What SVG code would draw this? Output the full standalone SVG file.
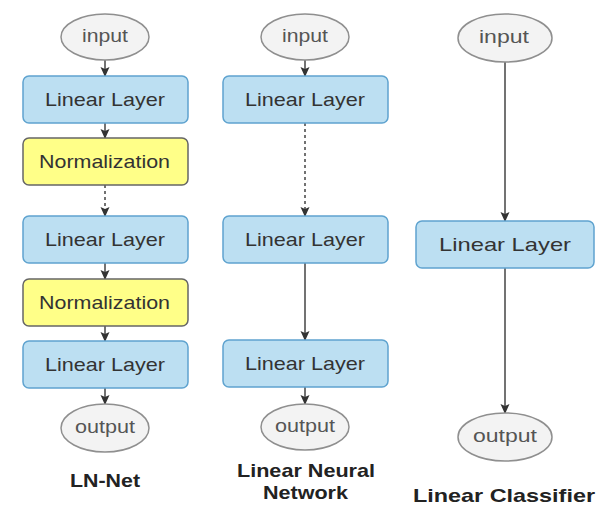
<svg xmlns="http://www.w3.org/2000/svg" width="597" height="505" viewBox="0 0 597 505">
<style>
.lin{fill:#bcdff2;stroke:#5fa3cf;stroke-width:1.5}
.norm{fill:#ffff88;stroke:#666;stroke-width:1.5}
.io{fill:#f3f3f3;stroke:#8f8f8f;stroke-width:1.5}
.t{font-family:"Liberation Sans",Arial,sans-serif;font-size:19px;fill:#333;text-anchor:middle;dominant-baseline:central}
.ti{font-family:"Liberation Sans",Arial,sans-serif;font-size:18px;fill:#555;text-anchor:middle;dominant-baseline:central}
.cap{font-family:"Liberation Sans",Arial,sans-serif;font-size:18.5px;font-weight:bold;fill:#222;text-anchor:middle;dominant-baseline:central}
.c{stroke:#444;stroke-width:1.5;fill:none;marker-end:url(#ah)}
.d{stroke-dasharray:3,3}
</style>
<defs>
<marker id="ah" viewBox="0 0 10 10" refX="9" refY="5" markerWidth="10" markerHeight="10" markerUnits="userSpaceOnUse" orient="auto">
<path d="M0,0.5 L10,5 L0,9.5 L2,5 z" fill="#333"/>
</marker>
</defs>
<rect width="597" height="505" fill="#fff"/>
<g id="connectors">
<line class="c" x1="105" y1="59" x2="105" y2="76"/>
<line class="c" x1="105" y1="123" x2="105" y2="138"/>
<line class="c d" x1="105" y1="185" x2="105" y2="216"/>
<line class="c" x1="105" y1="263" x2="105" y2="279"/>
<line class="c" x1="105" y1="326" x2="105" y2="341"/>
<line class="c" x1="105" y1="388" x2="105" y2="404"/>
<line class="c" x1="305" y1="59" x2="305" y2="76"/>
<line class="c d" x1="305" y1="123" x2="305" y2="216"/>
<line class="c" x1="305" y1="263" x2="305" y2="340"/>
<line class="c" x1="305" y1="387" x2="305" y2="404"/>
<line class="c" x1="505" y1="62" x2="505" y2="221"/>
<line class="c" x1="505" y1="268" x2="505" y2="413"/>
</g>
<g id="n1-input"><ellipse class="io" cx="105" cy="37" rx="44" ry="23"/><text class="ti" x="105" y="36" textLength="46" lengthAdjust="spacingAndGlyphs">input</text></g>
<g id="n1-lin1"><rect class="lin" x="23" y="76" width="165" height="47" rx="6"/><text class="t" x="105" y="99.5" textLength="120" lengthAdjust="spacingAndGlyphs">Linear Layer</text></g>
<g id="n1-norm1"><rect class="norm" x="23" y="138" width="165" height="47" rx="6"/><text class="t" x="104.5" y="161.5" textLength="131" lengthAdjust="spacingAndGlyphs">Normalization</text></g>
<g id="n1-lin2"><rect class="lin" x="23" y="216" width="165" height="47" rx="6"/><text class="t" x="105" y="239.5" textLength="120" lengthAdjust="spacingAndGlyphs">Linear Layer</text></g>
<g id="n1-norm2"><rect class="norm" x="23" y="279" width="165" height="47" rx="6"/><text class="t" x="104.5" y="302.5" textLength="131" lengthAdjust="spacingAndGlyphs">Normalization</text></g>
<g id="n1-lin3"><rect class="lin" x="23" y="341" width="165" height="47" rx="6"/><text class="t" x="105" y="364.5" textLength="120" lengthAdjust="spacingAndGlyphs">Linear Layer</text></g>
<g id="n1-output"><ellipse class="io" cx="105" cy="428" rx="44" ry="24"/><text class="ti" x="105" y="427" textLength="60" lengthAdjust="spacingAndGlyphs">output</text></g>
<text class="cap" x="105" y="480" textLength="70" lengthAdjust="spacingAndGlyphs">LN-Net</text>
<g id="n2-input"><ellipse class="io" cx="305" cy="37" rx="44" ry="23"/><text class="ti" x="305" y="36" textLength="46" lengthAdjust="spacingAndGlyphs">input</text></g>
<g id="n2-lin1"><rect class="lin" x="223" y="76" width="165" height="47" rx="6"/><text class="t" x="305" y="99.5" textLength="120" lengthAdjust="spacingAndGlyphs">Linear Layer</text></g>
<g id="n2-lin2"><rect class="lin" x="223" y="216" width="165" height="47" rx="6"/><text class="t" x="305" y="239.5" textLength="120" lengthAdjust="spacingAndGlyphs">Linear Layer</text></g>
<g id="n2-lin3"><rect class="lin" x="223" y="340" width="165" height="47" rx="6"/><text class="t" x="305" y="363.5" textLength="120" lengthAdjust="spacingAndGlyphs">Linear Layer</text></g>
<g id="n2-output"><ellipse class="io" cx="305" cy="427" rx="44" ry="23"/><text class="ti" x="305" y="426" textLength="60" lengthAdjust="spacingAndGlyphs">output</text></g>
<text class="cap" x="306" y="470" textLength="138" lengthAdjust="spacingAndGlyphs">Linear Neural</text>
<text class="cap" x="305.5" y="492" textLength="85" lengthAdjust="spacingAndGlyphs">Network</text>
<g id="n3-input"><ellipse class="io" cx="505" cy="38" rx="47" ry="24"/><text class="ti" x="504" y="37" textLength="50" lengthAdjust="spacingAndGlyphs">input</text></g>
<g id="n3-lin"><rect class="lin" x="416" y="221" width="178" height="47" rx="6"/><text class="t" x="505" y="244.5" textLength="132" lengthAdjust="spacingAndGlyphs">Linear Layer</text></g>
<g id="n3-output"><ellipse class="io" cx="505" cy="437" rx="47" ry="24"/><text class="ti" x="505" y="436" textLength="64" lengthAdjust="spacingAndGlyphs">output</text></g>
<text class="cap" x="504" y="495" textLength="182" lengthAdjust="spacingAndGlyphs">Linear Classifier</text>
</svg>
